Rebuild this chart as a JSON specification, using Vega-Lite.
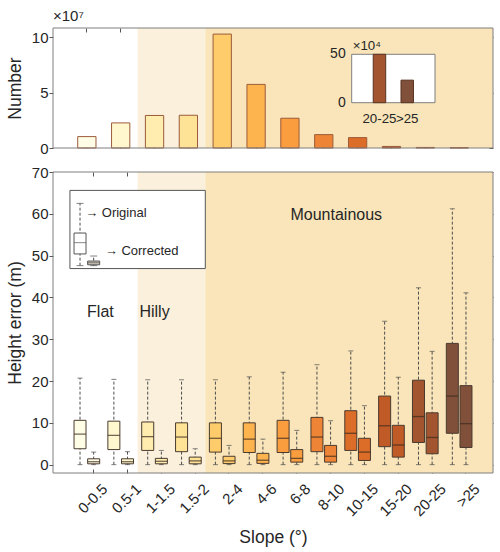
{
  "$schema": "https://vega.github.io/schema/vega-lite/v6.json",
  "background": "white",
  "padding": {"left": 6, "top": 8, "right": 5, "bottom": 5},
  "spacing": 24,
  "bounds": "flush",
  "config": {
    "font": "Liberation Sans",
    "view": {"stroke": null},
    "axis": {"labelFont": "Liberation Sans", "titleFont": "Liberation Sans", "labelColor": "#262626", "titleColor": "#262626", "labelFontSize": 15, "titleFontSize": 17.5, "titleFontWeight": "normal", "domain": false, "grid": false, "tickColor": "#555555", "zindex": 1},
    "text": {"font": "Liberation Sans", "color": "#262626"},
    "title": {"font": "Liberation Sans"}
  },
  "datasets": {
    "counts": [
      {"cat": "0-0.5", "n": 10300000},
      {"cat": "0.5-1", "n": 22700000},
      {"cat": "1-1.5", "n": 29400000},
      {"cat": "1.5-2", "n": 29600000},
      {"cat": "2-4", "n": 103000000},
      {"cat": "4-6", "n": 57500000},
      {"cat": "6-8", "n": 26900000},
      {"cat": "8-10", "n": 12100000},
      {"cat": "10-15", "n": 9400000},
      {"cat": "15-20", "n": 1400000},
      {"cat": "20-25", "n": 500000},
      {"cat": ">25", "n": 233000}
    ],
    "boxes": [
      {"cat": "0-0.5", "type": "Original", "lo": 0, "q1": 3.8, "med": 7.3, "q3": 10.6, "hi": 20.7},
      {"cat": "0-0.5", "type": "Corrected", "lo": 0, "q1": 0.2, "med": 0.7, "q3": 1.4, "hi": 3.0},
      {"cat": "0.5-1", "type": "Original", "lo": 0, "q1": 3.6, "med": 7.0, "q3": 10.4, "hi": 20.4},
      {"cat": "0.5-1", "type": "Corrected", "lo": 0, "q1": 0.2, "med": 0.7, "q3": 1.4, "hi": 3.1},
      {"cat": "1-1.5", "type": "Original", "lo": 0, "q1": 3.4, "med": 6.7, "q3": 10.2, "hi": 20.3},
      {"cat": "1-1.5", "type": "Corrected", "lo": 0, "q1": 0.2, "med": 0.8, "q3": 1.5, "hi": 3.4},
      {"cat": "1.5-2", "type": "Original", "lo": 0, "q1": 3.1, "med": 6.6, "q3": 10.0, "hi": 20.3},
      {"cat": "1.5-2", "type": "Corrected", "lo": 0, "q1": 0.2, "med": 0.9, "q3": 1.8, "hi": 3.8},
      {"cat": "2-4", "type": "Original", "lo": 0, "q1": 3.0, "med": 6.3, "q3": 10.0, "hi": 20.3},
      {"cat": "2-4", "type": "Corrected", "lo": 0, "q1": 0.25, "med": 0.9, "q3": 2.0, "hi": 4.6},
      {"cat": "4-6", "type": "Original", "lo": 0, "q1": 2.9, "med": 6.1, "q3": 10.0, "hi": 21.0},
      {"cat": "4-6", "type": "Corrected", "lo": 0, "q1": 0.3, "med": 1.05, "q3": 2.7, "hi": 6.1},
      {"cat": "6-8", "type": "Original", "lo": 0, "q1": 2.9, "med": 6.3, "q3": 10.6, "hi": 22.1},
      {"cat": "6-8", "type": "Corrected", "lo": 0, "q1": 0.6, "med": 1.5, "q3": 3.6, "hi": 8.2},
      {"cat": "8-10", "type": "Original", "lo": 0, "q1": 3.1, "med": 6.6, "q3": 11.3, "hi": 23.9},
      {"cat": "8-10", "type": "Corrected", "lo": 0, "q1": 0.6, "med": 2.0, "q3": 4.6, "hi": 10.5},
      {"cat": "10-15", "type": "Original", "lo": 0, "q1": 3.4, "med": 7.5, "q3": 12.9, "hi": 27.2},
      {"cat": "10-15", "type": "Corrected", "lo": 0, "q1": 1.0, "med": 3.0, "q3": 6.3, "hi": 14.1},
      {"cat": "15-20", "type": "Original", "lo": 0, "q1": 4.3, "med": 9.3, "q3": 16.4, "hi": 34.3},
      {"cat": "15-20", "type": "Corrected", "lo": 0, "q1": 1.8, "med": 4.7, "q3": 9.4, "hi": 20.9},
      {"cat": "20-25", "type": "Original", "lo": 0, "q1": 5.3, "med": 11.5, "q3": 20.2, "hi": 42.3},
      {"cat": "20-25", "type": "Corrected", "lo": 0, "q1": 2.6, "med": 6.5, "q3": 12.4, "hi": 27.1},
      {"cat": ">25", "type": "Original", "lo": 0, "q1": 7.5, "med": 16.4, "q3": 29.0, "hi": 61.2},
      {"cat": ">25", "type": "Corrected", "lo": 0, "q1": 4.1, "med": 9.8, "q3": 18.9, "hi": 41.1}
    ],
    "legend": [
      {"type": "Original", "lo": 47.6, "q1": 50.4, "med": 53.1, "q3": 55.4, "hi": 62.5},
      {"type": "Corrected", "lo": 47.6, "q1": 47.8, "med": 48.3, "q3": 48.7, "hi": 49.9}
    ],
    "insetTicks": [
      {"v": 0, "label": "0"},
      {"v": 500000, "label": "50"}
    ]
  },
  "vconcat": [
    {
      "width": 440,
      "height": 120,
      "title": {"text": "×10⁷", "anchor": "start", "frame": "group", "fontSize": 15, "fontWeight": "normal", "color": "#262626", "offset": 4},
      "layer": [
        {
          "data": {"values": [{}]},
          "mark": {"type": "rect", "fill": "#FAF0DC"},
          "encoding": {
            "x": {"datum": "1-1.5", "bandPosition": 0,
              "scale": {"domain": ["0-0.5","0.5-1","1-1.5","1.5-2","2-4","4-6","6-8","8-10","10-15","15-20","20-25",">25"], "paddingInner": 0, "paddingOuter": 0.5},
              "axis": null},
            "x2": {"datum": "2-4", "bandPosition": 0},
            "y": {"datum": 0, "scale": {"domain": [0, 108500000], "nice": false},
              "axis": {"orient": "right", "values": [0, 50000000, 100000000], "labels": false, "title": null, "tickSize": -4, "minExtent": 0, "maxExtent": 0}},
            "y2": {"datum": 108500000}
          }
        },
        {
          "data": {"values": [{}]},
          "mark": {"type": "rect", "fill": "#F9E5B9"},
          "encoding": {
            "x": {"datum": "2-4", "bandPosition": 0,
              "scale": {"domain": ["0-0.5","0.5-1","1-1.5","1.5-2","2-4","4-6","6-8","8-10","10-15","15-20","20-25",">25"], "paddingInner": 0, "paddingOuter": 0.5},
              "axis": {"orient": "top", "labels": false, "title": null, "tickSize": -4, "bandPosition": 0.5, "minExtent": 0, "maxExtent": 0}},
            "x2": {"datum": ">25", "bandPosition": 1.5}
          }
        },
        {
          "data": {"name": "counts"},
          "mark": {"type": "bar", "width": {"band": 0.54}, "stroke": "#9C5B3A", "strokeWidth": 1},
          "encoding": {
            "x": {"field": "cat", "type": "nominal",
              "scale": {"domain": ["0-0.5","0.5-1","1-1.5","1.5-2","2-4","4-6","6-8","8-10","10-15","15-20","20-25",">25"], "paddingInner": 0, "paddingOuter": 0.5},
              "axis": {"orient": "bottom", "labels": false, "title": null, "tickSize": -4, "bandPosition": 0.5, "minExtent": 0, "maxExtent": 0}},
            "y": {"field": "n", "type": "quantitative",
              "scale": {"domain": [0, 108500000], "nice": false},
              "axis": {"orient": "left", "values": [0, 50000000, 100000000], "labelExpr": "datum.value / 1e7", "title": "Number", "tickSize": 4, "labelPadding": 1, "minExtent": 26, "maxExtent": 26, "titlePadding": 3}},
            "color": {"field": "cat", "type": "nominal", "legend": null,
              "scale": {"domain": ["0-0.5","0.5-1","1-1.5","1.5-2","2-4","4-6","6-8","8-10","10-15","15-20","20-25",">25"],
                "range": ["#FFFDE6","#FFF8CF","#FFEDB0","#FEE296","#FECC6B","#FDB34E","#FA9D3F","#EE8536","#DC6D28","#C05A26","#A3552F","#80503A"]}}
          }
        },
        {
          "data": {"values": [{}]},
          "mark": {"type": "rect", "fill": null, "stroke": "#7f7f7f", "strokeWidth": 1},
          "encoding": {}
        },
        {
          "data": {"values": [{}]},
          "mark": {"type": "rect", "fill": "white", "stroke": "#7f7f7f", "strokeWidth": 1},
          "encoding": {
            "x": {"datum": "20-25", "bandPosition": -0.5,
              "scale": {"type": "band", "domain": ["20-25", ">25"], "range": [298.7, 382], "paddingInner": 0, "paddingOuter": 0.5},
              "axis": null},
            "x2": {"datum": ">25", "bandPosition": 1.5},
            "y": {"datum": 0,
              "scale": {"domain": [0, 500000], "range": [74.7, 26.3], "nice": false},
              "axis": null},
            "y2": {"datum": 500000}
          }
        },
        {
          "data": {"name": "counts"},
          "transform": [{"filter": {"field": "cat", "oneOf": ["20-25", ">25"]}}],
          "mark": {"type": "bar", "width": {"band": 0.45}, "stroke": "#5a3322", "strokeWidth": 1},
          "encoding": {
            "x": {"field": "cat", "type": "nominal",
              "scale": {"type": "band", "domain": ["20-25", ">25"], "range": [298.7, 382], "paddingInner": 0, "paddingOuter": 0.5},
              "axis": null},
            "y": {"field": "n", "type": "quantitative",
              "scale": {"domain": [0, 500000], "range": [74.7, 26.3], "nice": false},
              "axis": null},
            "color": {"field": "cat", "type": "nominal", "legend": null,
              "scale": {"domain": ["0-0.5","0.5-1","1-1.5","1.5-2","2-4","4-6","6-8","8-10","10-15","15-20","20-25",">25"],
                "range": ["#FFFDE6","#FFF8CF","#FFEDB0","#FEE296","#FECC6B","#FDB34E","#FA9D3F","#EE8536","#DC6D28","#C05A26","#A3552F","#80503A"]}}
          }
        },
        {
          "data": {"name": "counts"},
          "transform": [{"filter": {"field": "cat", "oneOf": ["20-25", ">25"]}}],
          "mark": {"type": "text", "fontSize": 13.3, "baseline": "top", "dy": 9, "color": "#262626"},
          "encoding": {
            "x": {"field": "cat", "type": "nominal",
              "scale": {"type": "band", "domain": ["20-25", ">25"], "range": [298.7, 382], "paddingInner": 0, "paddingOuter": 0.5},
              "axis": null},
            "y": {"datum": 0,
              "scale": {"domain": [0, 500000], "range": [74.7, 26.3], "nice": false},
              "axis": null},
            "text": {"field": "cat"}
          }
        },
        {
          "data": {"name": "insetTicks"},
          "mark": {"type": "text", "fontSize": 14, "align": "right", "baseline": "middle", "dx": -6, "color": "#262626"},
          "encoding": {
            "x": {"datum": "20-25", "bandPosition": -0.5,
              "scale": {"type": "band", "domain": ["20-25", ">25"], "range": [298.7, 382], "paddingInner": 0, "paddingOuter": 0.5},
              "axis": null},
            "y": {"field": "v", "type": "quantitative",
              "scale": {"domain": [0, 500000], "range": [74.7, 26.3], "nice": false},
              "axis": null},
            "text": {"field": "label"}
          }
        },
        {
          "data": {"values": [{}]},
          "mark": {"type": "text", "fontSize": 13.3, "align": "left", "baseline": "alphabetic", "dx": 1, "dy": -4, "color": "#262626"},
          "encoding": {
            "x": {"datum": "20-25", "bandPosition": -0.5,
              "scale": {"type": "band", "domain": ["20-25", ">25"], "range": [298.7, 382], "paddingInner": 0, "paddingOuter": 0.5},
              "axis": null},
            "y": {"datum": 500000,
              "scale": {"domain": [0, 500000], "range": [74.7, 26.3], "nice": false},
              "axis": null},
            "text": {"value": "×10⁴"}
          }
        }
      ],
      "resolve": {"scale": {"x": "independent", "y": "independent"}, "axis": {"x": "independent", "y": "independent"}}
    },
    {
      "width": 440,
      "height": 301,
      "layer": [
        {
          "data": {"values": [{}]},
          "mark": {"type": "rect", "fill": "#FAF0DC"},
          "encoding": {
            "x": {"datum": "1-1.5", "bandPosition": 0,
              "scale": {"domain": ["0-0.5","0.5-1","1-1.5","1.5-2","2-4","4-6","6-8","8-10","10-15","15-20","20-25",">25"], "paddingInner": 0, "paddingOuter": 0.5},
              "axis": {"orient": "bottom", "bandPosition": 0.7, "labelAngle": -45, "labelAlign": "right", "labelBaseline": "middle", "labelOffset": 18, "labelPadding": 17, "tickSize": -4, "title": "Slope (°)", "titlePadding": 10}},
            "x2": {"datum": "2-4", "bandPosition": 0}
          }
        },
        {
          "data": {"values": [{}]},
          "mark": {"type": "rect", "fill": "#F9E5B9"},
          "encoding": {
            "x": {"datum": "2-4", "bandPosition": 0,
              "axis": {"orient": "top", "bandPosition": 0.7, "labels": false, "title": null, "tickSize": -4, "minExtent": 0, "maxExtent": 0}},
            "x2": {"datum": ">25", "bandPosition": 1.5},
            "y": {"datum": -2, "scale": {"domain": [-2, 70], "nice": false, "zero": false},
              "axis": {"orient": "right", "values": [0, 10, 20, 30, 40, 50, 60, 70], "labels": false, "title": null, "tickSize": -4, "minExtent": 0, "maxExtent": 0}},
            "y2": {"datum": 70}
          }
        },
        {
          "data": {"values": [{}]},
          "mark": {"type": "rect", "fill": "white", "stroke": "#555555", "strokeWidth": 1},
          "encoding": {
            "x": {"datum": "0-0.5", "bandPosition": 0, "axis": null},
            "x2": {"datum": "2-4", "bandPosition": 0},
            "y": {"datum": 46.9,
              "axis": {"orient": "left", "values": [0, 10, 20, 30, 40, 50, 60, 70], "title": "Height error (m)", "tickSize": 4, "labelPadding": 1, "minExtent": 26, "maxExtent": 26, "titlePadding": 3}},
            "y2": {"datum": 65.6}
          }
        },
        {
          "data": {"name": "boxes"},
          "mark": {"type": "rule", "strokeDash": [3, 2], "color": "#4d4d4d", "strokeWidth": 1},
          "encoding": {
            "x": {"field": "cat", "type": "nominal", "axis": null},
            "xOffset": {"field": "type", "type": "nominal", "scale": {"domain": ["Original", "Corrected"], "paddingInner": 0.12, "paddingOuter": 0.3}},
            "y": {"field": "lo", "type": "quantitative", "axis": null},
            "y2": {"field": "hi"}
          }
        },
        {
          "data": {"name": "boxes"},
          "mark": {"type": "tick", "size": 5, "thickness": 1, "color": "#4d4d4d"},
          "encoding": {
            "x": {"field": "cat", "type": "nominal", "axis": null},
            "xOffset": {"field": "type", "type": "nominal"},
            "y": {"field": "hi", "type": "quantitative", "axis": null}
          }
        },
        {
          "data": {"name": "boxes"},
          "mark": {"type": "tick", "size": 5, "thickness": 1, "color": "#4d4d4d"},
          "encoding": {
            "x": {"field": "cat", "type": "nominal", "axis": null},
            "xOffset": {"field": "type", "type": "nominal"},
            "y": {"field": "lo", "type": "quantitative", "axis": null}
          }
        },
        {
          "data": {"name": "boxes"},
          "mark": {"type": "bar", "stroke": "#4a3b30", "strokeWidth": 1},
          "encoding": {
            "x": {"field": "cat", "type": "nominal", "axis": null},
            "xOffset": {"field": "type", "type": "nominal"},
            "y": {"field": "q1", "type": "quantitative", "axis": null},
            "y2": {"field": "q3"},
            "color": {"field": "cat", "type": "nominal", "legend": null,
              "scale": {"domain": ["0-0.5","0.5-1","1-1.5","1.5-2","2-4","4-6","6-8","8-10","10-15","15-20","20-25",">25"],
                "range": ["#FFFDE6","#FFF8CF","#FFEDB0","#FEE296","#FECC6B","#FDB34E","#FA9D3F","#EE8536","#DC6D28","#C05A26","#A3552F","#80503A"]}}
          }
        },
        {
          "data": {"name": "boxes"},
          "mark": {"type": "tick", "size": 12, "thickness": 1.3, "color": "#3a2a1e"},
          "encoding": {
            "x": {"field": "cat", "type": "nominal", "axis": null},
            "xOffset": {"field": "type", "type": "nominal"},
            "y": {"field": "med", "type": "quantitative", "axis": null}
          }
        },
        {
          "data": {"name": "legend"},
          "mark": {"type": "rule", "strokeDash": [3, 2], "color": "#4d4d4d", "strokeWidth": 1},
          "encoding": {
            "x": {"datum": "0-0.5", "axis": null},
            "xOffset": {"field": "type", "type": "nominal"},
            "y": {"field": "lo", "type": "quantitative", "axis": null},
            "y2": {"field": "hi"}
          }
        },
        {
          "data": {"name": "legend"},
          "mark": {"type": "tick", "size": 7, "thickness": 1, "color": "#4d4d4d"},
          "encoding": {
            "x": {"datum": "0-0.5", "axis": null},
            "xOffset": {"field": "type", "type": "nominal"},
            "y": {"field": "hi", "type": "quantitative", "axis": null}
          }
        },
        {
          "data": {"name": "legend"},
          "mark": {"type": "tick", "size": 7, "thickness": 1, "color": "#4d4d4d"},
          "encoding": {
            "x": {"datum": "0-0.5", "axis": null},
            "xOffset": {"field": "type", "type": "nominal"},
            "y": {"field": "lo", "type": "quantitative", "axis": null}
          }
        },
        {
          "data": {"name": "legend"},
          "mark": {"type": "bar", "stroke": "#555555", "strokeWidth": 1},
          "encoding": {
            "x": {"datum": "0-0.5", "axis": null},
            "xOffset": {"field": "type", "type": "nominal"},
            "y": {"field": "q1", "type": "quantitative", "axis": null},
            "y2": {"field": "q3"},
            "fill": {"condition": {"test": "datum.type == 'Corrected'", "value": "#cfc9b8"}, "value": "white"}
          }
        },
        {
          "data": {"name": "legend"},
          "mark": {"type": "tick", "size": 12, "thickness": 1, "color": "#555555"},
          "encoding": {
            "x": {"datum": "0-0.5", "axis": null},
            "xOffset": {"field": "type", "type": "nominal"},
            "y": {"field": "med", "type": "quantitative", "axis": null}
          }
        },
        {
          "data": {"values": [{}]},
          "mark": {"type": "text", "fontSize": 16, "align": "center", "baseline": "middle"},
          "encoding": {"x": {"datum": "0.5-1", "bandPosition": -0.1, "axis": null}, "y": {"datum": 36.6, "axis": null}, "text": {"value": "Flat"}}
        },
        {
          "data": {"values": [{}]},
          "mark": {"type": "text", "fontSize": 16, "align": "center", "baseline": "middle"},
          "encoding": {"x": {"datum": "1-1.5", "bandPosition": 0.5, "axis": null}, "y": {"datum": 36.6, "axis": null}, "text": {"value": "Hilly"}}
        },
        {
          "data": {"values": [{}]},
          "mark": {"type": "text", "fontSize": 16, "align": "center", "baseline": "middle"},
          "encoding": {"x": {"datum": "10-15", "bandPosition": -0.13, "axis": null}, "y": {"datum": 59.7, "axis": null}, "text": {"value": "Mountainous"}}
        },
        {
          "data": {"values": [{}]},
          "mark": {"type": "text", "fontSize": 13, "align": "left", "baseline": "middle"},
          "encoding": {"x": {"datum": "0-0.5", "bandPosition": 0.45, "axis": null}, "y": {"datum": 60.3, "axis": null}, "text": {"value": "→ Original"}}
        },
        {
          "data": {"values": [{}]},
          "mark": {"type": "text", "fontSize": 13, "align": "left", "baseline": "middle"},
          "encoding": {"x": {"datum": "0.5-1", "bandPosition": 0.03, "axis": null}, "y": {"datum": 51.0, "axis": null}, "text": {"value": "→ Corrected"}}
        },
        {
          "data": {"values": [{}]},
          "mark": {"type": "rect", "fill": null, "stroke": "#7f7f7f", "strokeWidth": 1},
          "encoding": {}
        }
      ],
      "resolve": {"axis": {"x": "independent", "y": "independent"}}
    }
  ]
}
